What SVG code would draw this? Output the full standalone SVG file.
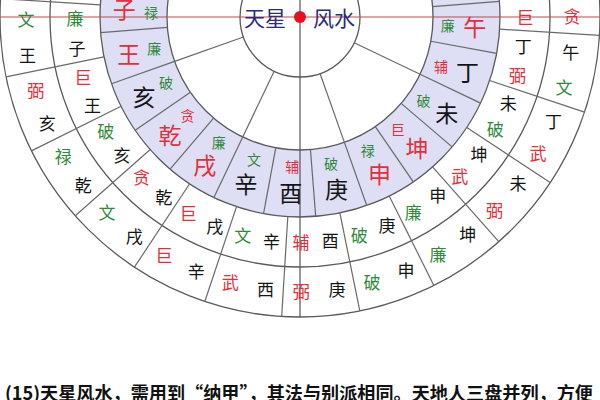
<svg xmlns="http://www.w3.org/2000/svg" width="600" height="400" viewBox="0 0 600 400">
<style>
text{font-family:"Noto Sans CJK SC","Noto Sans",sans-serif;text-anchor:middle;dominant-baseline:central}
.big{font-size:23px}
.sm{font-size:14px}
.mid{font-size:17px}
.r{fill:#e2303a}.g{fill:#2f8a3c}.k{fill:#151515}
.ring{fill:none;stroke:#5a5a5a;stroke-width:1.3}
.sp{stroke:#6a6a6a;stroke-width:1.2}
</style>
<rect width="600" height="400" fill="#fff"/>
<g id="rings">
<circle cx="300" cy="17" r="166.5" fill="none" stroke="#dedef4" stroke-width="67"/>
<circle class="ring" cx="300" cy="17" r="300"/>
<circle class="ring" cx="300" cy="17" r="250"/>
<circle class="ring" cx="300" cy="17" r="200"/>
<circle class="ring" cx="300" cy="17" r="133"/>
</g>
<g id="connectors">
<g transform="translate(300,17)">
<!-- inner spokes -->
<line class="sp" x1="60" y1="0" x2="133" y2="0" transform="rotate(25.5)"/>
<line class="sp" x1="60" y1="0" x2="133" y2="0" transform="rotate(70.5)"/>
<line class="sp" x1="60" y1="0" x2="133" y2="0" transform="rotate(115.5)"/>
<line class="sp" x1="60" y1="0" x2="133" y2="0" transform="rotate(160.5)"/>
<!-- lavender ring dividers -->
<line class="sp" x1="133" y1="0" x2="200" y2="0" transform="rotate(-4.5)"/>
<line class="sp" x1="133" y1="0" x2="200" y2="0" transform="rotate(10.5)"/>
<line class="sp" x1="133" y1="0" x2="200" y2="0" transform="rotate(25.5)"/>
<line class="sp" x1="133" y1="0" x2="200" y2="0" transform="rotate(40.5)"/>
<line class="sp" x1="133" y1="0" x2="200" y2="0" transform="rotate(55.5)"/>
<line class="sp" x1="133" y1="0" x2="200" y2="0" transform="rotate(70.5)"/>
<line class="sp" x1="133" y1="0" x2="200" y2="0" transform="rotate(85.5)"/>
<line class="sp" x1="133" y1="0" x2="200" y2="0" transform="rotate(100.5)"/>
<line class="sp" x1="133" y1="0" x2="200" y2="0" transform="rotate(115.5)"/>
<line class="sp" x1="133" y1="0" x2="200" y2="0" transform="rotate(130.5)"/>
<line class="sp" x1="133" y1="0" x2="200" y2="0" transform="rotate(145.5)"/>
<line class="sp" x1="133" y1="0" x2="200" y2="0" transform="rotate(160.5)"/>
<line class="sp" x1="133" y1="0" x2="200" y2="0" transform="rotate(175.5)"/>
<line class="sp" x1="133" y1="0" x2="200" y2="0" transform="rotate(190.5)"/>
<!-- outer ring dividers -->
<line class="sp" x1="200" y1="0" x2="300" y2="0" transform="rotate(-11.5)"/>
<line class="sp" x1="200" y1="0" x2="300" y2="0" transform="rotate(3.5)"/>
<line class="sp" x1="200" y1="0" x2="300" y2="0" transform="rotate(18.5)"/>
<line class="sp" x1="200" y1="0" x2="300" y2="0" transform="rotate(33.5)"/>
<line class="sp" x1="200" y1="0" x2="300" y2="0" transform="rotate(48.5)"/>
<line class="sp" x1="200" y1="0" x2="300" y2="0" transform="rotate(63.5)"/>
<line class="sp" x1="200" y1="0" x2="300" y2="0" transform="rotate(78.5)"/>
<line class="sp" x1="200" y1="0" x2="300" y2="0" transform="rotate(93.5)"/>
<line class="sp" x1="200" y1="0" x2="300" y2="0" transform="rotate(108.5)"/>
<line class="sp" x1="200" y1="0" x2="300" y2="0" transform="rotate(123.5)"/>
<line class="sp" x1="200" y1="0" x2="300" y2="0" transform="rotate(138.5)"/>
<line class="sp" x1="200" y1="0" x2="300" y2="0" transform="rotate(153.5)"/>
<line class="sp" x1="200" y1="0" x2="300" y2="0" transform="rotate(168.5)"/>
<line class="sp" x1="200" y1="0" x2="300" y2="0" transform="rotate(183.5)"/>
<line class="sp" x1="200" y1="0" x2="300" y2="0" transform="rotate(198.5)"/>
</g>
</g>
<g id="center">
<circle cx="300" cy="17" r="60" fill="#fff" stroke="#5a5a5a" stroke-width="1.3"/>
</g>
<g id="axes">
<line x1="0" y1="17" x2="600" y2="17" stroke="#c44848" stroke-width="1.1"/>
<line x1="300" y1="0" x2="300" y2="317" stroke="#555" stroke-width="1.2"/>
<circle cx="300" cy="17" r="6" fill="#e8101c"/>
<text x="265" y="17" font-size="21" fill="#2c2c7c">天星</text>
<text x="334" y="17" font-size="21" fill="#2c2c7c">风水</text>
</g>
<g id="ring-inner" transform="translate(300,17)">
<text class="big r" transform="rotate(183) translate(176,0) rotate(-183)">子</text>
<text class="sm g" transform="rotate(182) translate(149,0) rotate(-182)">禄</text>
<text class="big r" transform="rotate(168) translate(175,0) rotate(-168)">王</text>
<text class="sm g" transform="rotate(168) translate(149,0) rotate(-168)">廉</text>
<text class="big k" transform="rotate(153) translate(175,0) rotate(-153)">亥</text>
<text class="sm g" transform="rotate(154) translate(149,0) rotate(-154)">破</text>
<text class="big r" transform="rotate(138) translate(175,0) rotate(-138)">乾</text>
<text class="sm r" transform="rotate(139) translate(149,0) rotate(-139)">贪</text>
<text class="big r" transform="rotate(123) translate(175,0) rotate(-123)">戌</text>
<text class="sm g" transform="rotate(123) translate(149,0) rotate(-123)">廉</text>
<text class="big k" transform="rotate(108) translate(175,0) rotate(-108)">辛</text>
<text class="sm g" transform="rotate(108) translate(149,0) rotate(-108)">文</text>
<text class="big k" transform="rotate(93) translate(175,0) rotate(-93)">酉</text>
<text class="sm r" transform="rotate(93) translate(149,0) rotate(-93)">辅</text>
<text class="big k" transform="rotate(78) translate(175,0) rotate(-78)">庚</text>
<text class="sm g" transform="rotate(78) translate(149,0) rotate(-78)">破</text>
<text class="big r" transform="rotate(63) translate(175,0) rotate(-63)">申</text>
<text class="sm g" transform="rotate(63) translate(149,0) rotate(-63)">禄</text>
<text class="big r" transform="rotate(48) translate(175,0) rotate(-48)">坤</text>
<text class="sm r" transform="rotate(49) translate(149,0) rotate(-49)">巨</text>
<text class="big k" transform="rotate(33) translate(175,0) rotate(-33)">未</text>
<text class="sm g" transform="rotate(34) translate(149,0) rotate(-34)">破</text>
<text class="big k" transform="rotate(18) translate(176,0) rotate(-18)">丁</text>
<text class="sm r" transform="rotate(19) translate(149,0) rotate(-19)">辅</text>
<text class="big r" transform="rotate(3) translate(175,0) rotate(-3)">午</text>
<text class="sm g" transform="rotate(3) translate(148,0) rotate(-3)">廉</text>
</g>
<g id="ring-middle" transform="translate(300,17)">
<text class="mid r" transform="rotate(-0.25) translate(225,0) rotate(0.25)">巨</text>
<text class="mid k" transform="rotate(7.25) translate(225,0) rotate(-7.25)">丁</text>
<text class="mid r" transform="rotate(14.75) translate(225,0) rotate(-14.75)">弼</text>
<text class="mid k" transform="rotate(22.25) translate(225,0) rotate(-22.25)">未</text>
<text class="mid g" transform="rotate(29.75) translate(225,0) rotate(-29.75)">破</text>
<text class="mid k" transform="rotate(37.25) translate(225,0) rotate(-37.25)">坤</text>
<text class="mid r" transform="rotate(44.75) translate(225,0) rotate(-44.75)">武</text>
<text class="mid k" transform="rotate(52.25) translate(225,0) rotate(-52.25)">申</text>
<text class="mid g" transform="rotate(59.75) translate(225,0) rotate(-59.75)">廉</text>
<text class="mid k" transform="rotate(67.25) translate(225,0) rotate(-67.25)">庚</text>
<text class="mid g" transform="rotate(74.75) translate(225,0) rotate(-74.75)">破</text>
<text class="mid k" transform="rotate(82.25) translate(225,0) rotate(-82.25)">酉</text>
<text class="mid r" transform="rotate(89.75) translate(225,0) rotate(-89.75)">辅</text>
<text class="mid k" transform="rotate(97.25) translate(225,0) rotate(-97.25)">辛</text>
<text class="mid g" transform="rotate(104.75) translate(225,0) rotate(-104.75)">文</text>
<text class="mid k" transform="rotate(112.25) translate(225,0) rotate(-112.25)">戌</text>
<text class="mid r" transform="rotate(119.75) translate(225,0) rotate(-119.75)">巨</text>
<text class="mid k" transform="rotate(127.25) translate(225,0) rotate(-127.25)">乾</text>
<text class="mid r" transform="rotate(134.75) translate(225,0) rotate(-134.75)">贪</text>
<text class="mid k" transform="rotate(142.25) translate(225,0) rotate(-142.25)">亥</text>
<text class="mid g" transform="rotate(149.75) translate(225,0) rotate(-149.75)">破</text>
<text class="mid k" transform="rotate(157.25) translate(225,0) rotate(-157.25)">王</text>
<text class="mid r" transform="rotate(164.75) translate(225,0) rotate(-164.75)">巨</text>
<text class="mid k" transform="rotate(172.25) translate(225,0) rotate(-172.25)">子</text>
<text class="mid g" transform="rotate(179.75) translate(225,0) rotate(-179.75)">廉</text>
</g>
<g id="ring-outer" transform="translate(300,17)">
<text class="mid r" transform="rotate(-0.25) translate(272,0) rotate(0.25)">贪</text>
<text class="mid k" transform="rotate(7.25) translate(273,0) rotate(-7.25)">午</text>
<text class="mid g" transform="rotate(14.75) translate(273,0) rotate(-14.75)">文</text>
<text class="mid k" transform="rotate(22.25) translate(274,0) rotate(-22.25)">丁</text>
<text class="mid r" transform="rotate(29.75) translate(274,0) rotate(-29.75)">武</text>
<text class="mid k" transform="rotate(37.25) translate(274,0) rotate(-37.25)">未</text>
<text class="mid r" transform="rotate(44.75) translate(274,0) rotate(-44.75)">弼</text>
<text class="mid k" transform="rotate(52.25) translate(274,0) rotate(-52.25)">坤</text>
<text class="mid g" transform="rotate(59.75) translate(274,0) rotate(-59.75)">廉</text>
<text class="mid k" transform="rotate(67.25) translate(274,0) rotate(-67.25)">申</text>
<text class="mid g" transform="rotate(74.75) translate(274,0) rotate(-74.75)">破</text>
<text class="mid k" transform="rotate(82.25) translate(274,0) rotate(-82.25)">庚</text>
<text class="mid r" transform="rotate(89.75) translate(274,0) rotate(-89.75)">弼</text>
<text class="mid k" transform="rotate(97.25) translate(274,0) rotate(-97.25)">西</text>
<text class="mid r" transform="rotate(104.75) translate(274,0) rotate(-104.75)">武</text>
<text class="mid k" transform="rotate(112.25) translate(274,0) rotate(-112.25)">辛</text>
<text class="mid r" transform="rotate(119.75) translate(274,0) rotate(-119.75)">巨</text>
<text class="mid k" transform="rotate(127.25) translate(274,0) rotate(-127.25)">戌</text>
<text class="mid g" transform="rotate(134.75) translate(274,0) rotate(-134.75)">文</text>
<text class="mid k" transform="rotate(142.25) translate(274,0) rotate(-142.25)">乾</text>
<text class="mid g" transform="rotate(149.75) translate(274,0) rotate(-149.75)">禄</text>
<text class="mid k" transform="rotate(157.25) translate(274,0) rotate(-157.25)">亥</text>
<text class="mid r" transform="rotate(164.75) translate(274,0) rotate(-164.75)">弼</text>
<text class="mid k" transform="rotate(172.25) translate(275,0) rotate(-172.25)">王</text>
<text class="mid g" transform="rotate(179.75) translate(274,0) rotate(-179.75)">文</text>
</g>
<g id="caption">
<text x="5" y="392" font-size="18" font-weight="bold" fill="#111" style="text-anchor:start" textLength="588" lengthAdjust="spacingAndGlyphs">(15)天星风水，需用到“纳甲”，其法与别派相同。天地人三盘并列，方便</text>
</g>
</svg>
